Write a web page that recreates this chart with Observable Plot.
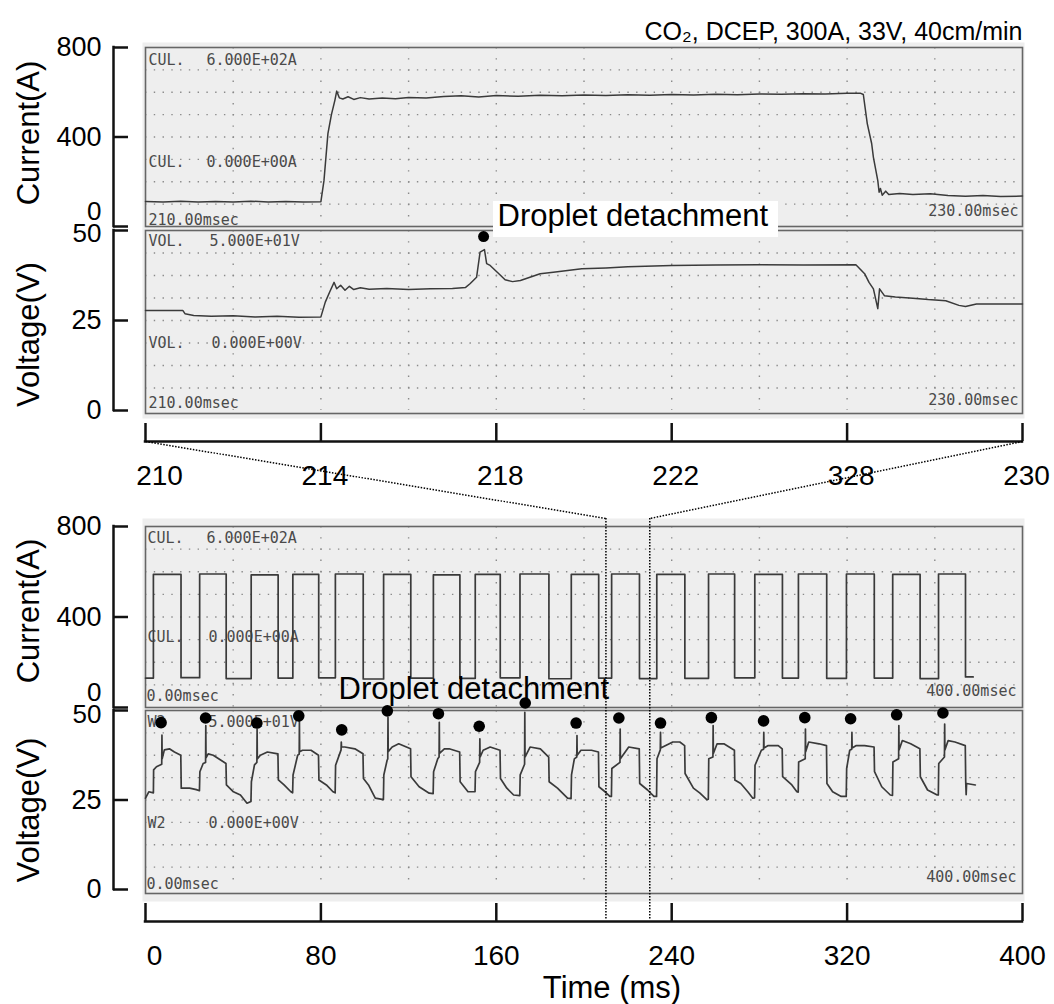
<!DOCTYPE html>
<html>
<head>
<meta charset="utf-8">
<script src="https://cdn.jsdelivr.net/npm/d3@7"></script>
<script src="https://cdn.jsdelivr.net/npm/@observablehq/plot@0.6"></script>
<style>
html, body { margin: 0; padding: 0; background: #fff; }
#chart { position: relative; width: 1054px; height: 1004px; overflow: hidden; background: #fff; }
#chart > svg { position: absolute; left: 0; top: 0; }
</style>
</head>
<body>
<div id="chart"></div>
<script>
// ---------------- data ----------------
const title = "CO₂, DCEP, 300A, 33V, 40cm/min";
const annotation = "Droplet detachment";
const currentTitle = "Current(A)";
const voltageTitle = "Voltage(V)";
const timeTitle = "Time (ms)";

const topTimeDomain = [210, 230];
const topTimeTicks = [210, 214, 218, 222, 226, 230];
const topTimeTickLabels = ["210", "214", "218", "222", "328", "230"];
const bottomTimeDomain = [0, 400];
const bottomTimeTicks = [0, 80, 160, 240, 320, 400];
const zoomWindow = [210, 230];

const currentDomain = [0, 800];
const currentTicks = [0, 400, 800];
const voltageDomain = [0, 50];
const voltageTicks = [0, 25, 50];

const topTimeGrid = [212, 214, 216, 218, 220, 222, 224, 226, 228];
const bottomTimeGrid = [40, 80, 120, 160, 200, 240, 280, 320, 360];
const currentGrid = [100, 200, 300, 400, 500, 600, 700];
const voltageGrid = [6.25, 12.5, 18.75, 25, 31.25, 37.5, 43.75];

// scope screen texts
const curHeader = ["CUL.", "6.000E+02A"];
const curZero = ["CUL.", "0.000E+00A"];
const volHeader = ["VOL.", "5.000E+01V"];
const volZero = ["VOL.", "0.000E+00V"];
const w2Header = ["W2", "5.000E+01V"];
const w2Zero = ["W2", "0.000E+00V"];
const topStart = "210.00msec", topEnd = "230.00msec";
const bottomStart = "0.00msec", bottomEnd = "400.00msec";

// top (zoomed) traces: [time ms, value]
const topCurrent = [[210.0,112],[210.4,110],[210.8,113],[211.2,109],[211.6,112],[212.0,110],[212.4,113],[212.8,110],[213.2,112],[213.6,109],[214.0,111],[214.07,205],[214.16,415],[214.24,500],[214.32,565],[214.36,605],[214.42,575],[214.5,570],[214.62,580],[214.75,568],[214.9,576],[215.1,570],[215.4,574],[215.7,571],[216.0,577],[216.4,574],[216.8,581],[217.2,584],[217.6,579],[218.0,585],[218.5,582],[219.0,587],[219.5,584],[220.0,588],[220.5,585],[221.0,589],[221.5,587],[222.0,590],[222.5,588],[223.0,591],[223.5,589],[224.0,592],[224.5,591],[225.0,593],[225.5,592],[226.0,595],[226.3,596],[226.37,590],[226.46,460],[226.56,371],[226.6,309],[226.7,205],[226.73,153],[226.76,170],[226.8,140],[226.88,158],[226.95,143],[227.2,148],[227.5,143],[227.9,146],[228.3,139],[228.7,135],[229.1,138],[229.5,134],[230.0,136]];

const topVoltage = [[210.0,27.8],[210.85,27.8],[210.9,26.9],[211.1,26.4],[211.5,26.2],[212.0,26.3],[212.5,26.0],[213.0,26.2],[213.5,25.9],[214.0,26.0],[214.1,30.1],[214.2,32.9],[214.3,35.6],[214.36,33.8],[214.45,34.8],[214.55,33.4],[214.65,34.5],[214.75,33.6],[214.9,34.1],[215.1,33.7],[215.5,33.9],[216.0,33.6],[216.5,33.8],[217.0,33.9],[217.3,34.2],[217.4,35.2],[217.55,37.0],[217.63,44.0],[217.73,44.7],[217.78,40.8],[217.86,40.3],[217.98,38.9],[218.1,37.5],[218.2,36.3],[218.37,35.8],[218.55,36.1],[219.0,38.0],[219.3,38.4],[219.95,39.4],[220.5,39.6],[221.0,39.9],[222.0,40.3],[223.0,40.4],[224.0,40.5],[225.0,40.4],[226.2,40.5],[226.4,38.0],[226.5,35.6],[226.6,33.8],[226.7,28.3],[226.74,33.8],[226.85,31.9],[227.1,31.5],[227.5,31.2],[227.85,30.8],[228.25,30.5],[228.55,29.2],[228.7,28.9],[228.95,29.6],[229.5,29.6],[230.0,29.6]];

const topDetachment = [[217.71, 48.3]];

// bottom (overview) current: level changes [time ms, current A], drawn as steps
const bottomCurrent = [[0,130],[3.6,588],[16.2,132],[24.7,590],[36.8,128],[48.2,586],[60.5,130],[67.2,588],[79.0,131],[86.6,590],[99.3,126],[108.6,588],[121.0,130],[131.3,586],[143.4,129],[150.4,588],[161.8,131],[170.8,590],[184.0,127],[194.2,588],[206.7,130],[212.6,590],[225.3,128],[233.2,588],[246.0,129],[256.8,590],[268.7,131],[277.9,588],[290.5,130],[297.8,590],[310.7,129],[319.7,590],[332.4,130],[340.8,588],[353.3,128],[361.7,590],[374.0,135],[377.5,135]];

const bottomVoltage = [[0,25.5],[1.5,27.3],[3.6,27.0],
[3.7,33.4],[5.0,34.3],[7.4,35.0],[7.5,43.1],[7.6,36.5],[8.6,39.0],[10.9,39.3],[13.2,38.4],[16.1,37.5],
[16.3,28.3],[20.1,28.3],[23.2,27.9],[24.6,27.6],
[24.8,32.9],[26.3,35.2],[27.4,35.5],[27.5,45.8],[27.6,36.8],[28.6,37.9],[30.9,37.5],[33.2,36.6],[36.7,35.2],
[36.9,29.2],[40.1,27.3],[43.3,26.4],[46.3,24.1],[48.1,24.6],
[48.3,30.1],[49.7,34.8],[50.8,35.5],[50.9,44.8],[51.0,36.5],[52.4,37.5],[55.6,38.4],[60.4,37.9],
[60.6,30.6],[63.2,29.2],[66.3,27.3],[67.1,27.0],
[67.3,32.0],[69.4,37.5],[70.1,37.8],[70.2,47.2],[70.3,38.5],[71.6,38.9],[75.5,38.9],[78.9,37.5],
[79.1,30.6],[82.5,29.2],[85.5,27.3],[86.5,27.0],
[86.7,34.7],[89.2,39.0],[89.3,41.2],[89.4,39.8],[90.9,39.8],[95.5,39.3],[99.2,37.9],
[99.4,31.0],[101.7,29.2],[104.8,25.5],[108.5,25.1],
[108.7,32.0],[110.2,36.1],[110.5,36.5],[110.6,48.1],[110.7,38.5],[112.5,39.8],[115.5,40.7],[120.9,39.3],
[121.1,31.5],[124.8,28.7],[129.4,26.9],[131.2,26.8],
[131.4,32.9],[133.3,36.5],[133.9,37.0],[134.0,46.7],[134.1,38.0],[136.3,39.3],[138.5,39.3],[143.3,38.4],
[143.5,30.1],[147.1,27.3],[150.3,27.3],
[150.5,32.9],[152.4,35.5],[152.5,42.1],[152.6,37.0],[154.0,38.9],[157.2,39.8],[161.7,38.9],
[161.9,31.0],[164.8,28.3],[167.9,26.4],[170.7,26.2],
[170.9,32.0],[172.9,35.0],[173.0,49.5],[173.1,37.0],[175.4,39.8],[180.1,39.3],[183.9,37.0],
[184.1,30.1],[187.9,28.3],[192.5,25.5],[194.1,25.4],
[194.3,32.0],[195.6,36.5],[196.7,37.0],[196.8,43.0],[196.9,37.5],[198.6,38.9],[203.4,38.9],[206.6,38.4],
[206.8,28.7],[209.6,27.3],[211.8,26.0],[212.5,26.0],
[212.7,33.8],[216.4,35.5],[216.5,44.8],[216.6,36.5],[220.4,39.8],[225.2,39.3],
[225.4,29.6],[229.0,27.8],[231.9,26.0],[233.1,26.0],
[233.3,36.5],[234.8,39.0],[234.9,43.9],[235.0,39.5],[235.9,39.8],[240.5,41.2],[243.7,41.2],[245.9,40.2],
[246.1,32.4],[249.9,28.3],[252.9,26.9],[256.0,25.1],[256.7,25.2],
[256.9,36.5],[258.8,37.0],[258.9,45.8],[259.0,38.0],[260.7,40.7],[263.8,40.7],[268.6,38.9],
[268.8,30.6],[271.5,29.6],[274.7,27.3],[277.0,25.5],[277.8,25.6],
[278.0,34.7],[280.9,38.9],[281.9,39.2],[282.0,43.9],[282.1,39.5],[284.0,40.2],[288.6,40.2],[290.4,39.3],
[290.6,31.5],[294.8,29.2],[297.1,27.3],[297.7,27.2],
[297.9,35.6],[300.9,36.5],[301.0,44.8],[301.1,38.5],[302.5,41.2],[307.2,40.7],[310.6,40.2],
[310.8,29.6],[313.4,27.3],[317.3,26.0],[319.6,26.0],
[319.8,33.8],[321.2,38.9],[322.1,39.2],[322.2,43.9],[322.3,39.5],[324.2,40.2],[328.0,40.2],[332.3,39.8],
[332.5,32.9],[335.8,28.7],[339.7,26.4],[340.7,26.3],
[340.9,35.6],[343.5,36.5],[343.6,45.8],[343.7,39.0],[345.2,41.6],[349.0,40.7],[353.2,39.3],
[353.4,31.5],[356.7,27.8],[361.1,26.4],[361.6,26.4],
[361.8,35.2],[364.4,37.0],[364.5,46.2],[364.6,39.0],[366.1,41.6],[369.2,41.2],[373.9,40.2],
[374.1,30.1],[374.3,26.5],[374.5,29.6],[378.5,29.2]];

const bottomDetachments = [[7.1,46.6],[27.4,47.9],[50.8,46.5],[69.9,48.5],[89.5,44.6],[110.3,49.9],[133.6,49.1],[152.2,45.6],[173.2,52.1],[196.4,46.5],[215.9,47.9],[234.9,46.5],[258.1,48.0],[281.9,47.1],[300.7,48.0],[321.6,47.7],[342.6,48.8],[363.7,49.3]];

// ---------------- layout & style ----------------
const W = 1054, H = 1004;
const L = 145, R = 1022;
const FONT = "Liberation Sans, Arial, Helvetica, sans-serif";
const MONO = "DejaVu Sans Mono, Liberation Mono, monospace";
const INK = "#111";
const TRACE = "#3a3a3a";
const SCOPE_BG = "#eeeeee";
const GRID_DOT = "#8a8a8a";
const FRAME = "#666";
const SCOPE_TEXT = "#4a4a4a";
const STYLE = {background: "transparent", fontFamily: FONT, overflow: "visible"};

function scopeText(text, frameAnchor, dx, dy, textAnchor = "start") {
  return Plot.text([text], {text: d => d, frameAnchor, dx, dy, textAnchor, lineAnchor: "middle",
    fontFamily: MONO, fontSize: 15, fill: SCOPE_TEXT});
}

function scopeBase(xGrid, yGrid, bg, border) {
  return [
    Plot.frame({fill: SCOPE_BG, stroke: "none", ...bg}),
    Plot.gridY(yGrid, {stroke: GRID_DOT, strokeOpacity: 1, strokeWidth: 1.4, strokeDasharray: "1.4 7.37"}),
    Plot.gridX(xGrid, {stroke: GRID_DOT, strokeOpacity: 1, strokeWidth: 1.4, strokeDasharray: "1.4 9.8"}),
    Plot.frame({stroke: FRAME, strokeWidth: 1.6, fill: "none", ...border})
  ];
}

function yAxis(xStart, ticks, plain, shifted, shiftDy, label, labelDy) {
  return [
    Plot.ruleX([xStart], {dx: -32, stroke: INK, strokeWidth: 2.5, strokeLinecap: "square"}),
    Plot.axisY(ticks, {anchor: "left", tickSize: 15, dx: -17, fill: "none", stroke: INK, strokeWidth: 2.5, label: null}),
    Plot.axisY(plain, {anchor: "left", tickSize: 0, tickPadding: 44, stroke: "none", fill: "#000", fontSize: 27, label: null}),
    Plot.axisY(shifted, {anchor: "left", tickSize: 0, tickPadding: 44, dy: shiftDy, stroke: "none", fill: "#000", fontSize: 26, label: null}),
    Plot.text([label], {text: d => d, frameAnchor: "left", textAnchor: "middle", lineAnchor: "middle", rotate: -90, dx: -116, dy: labelDy, fontSize: 31, fill: "#000"})
  ];
}

function timeAxis(ticks, lineDy, tickDy, labelPad, format, firstDx, restDx) {
  return [
    Plot.ruleY([0], {dy: lineDy, stroke: INK, strokeWidth: 2.5, strokeLinecap: "square"}),
    Plot.axisX(ticks, {anchor: "bottom", tickSize: 18, dy: tickDy, fill: "none", stroke: INK, strokeWidth: 2.5, label: null}),
    Plot.axisX(ticks.slice(0, 1), {anchor: "bottom", tickSize: 0, tickPadding: labelPad, dx: firstDx, stroke: "none", fill: "#000", fontSize: 28, tickFormat: format, label: null}),
    Plot.axisX(ticks.slice(1), {anchor: "bottom", tickSize: 0, tickPadding: labelPad, dx: restDx, stroke: "none", fill: "#000", fontSize: 28, tickFormat: format, label: null})
  ];
}

// ---------------- top: current (zoom) ----------------
const topCurrentPlot = Plot.plot({
  width: W, height: H, marginLeft: L, marginRight: W - R, marginTop: 47, marginBottom: H - 226,
  style: STYLE,
  x: {domain: topTimeDomain, axis: null},
  y: {domain: currentDomain},
  marks: [
    ...scopeBase(topTimeGrid, currentGrid, {insetTop: -5, insetBottom: -3, insetLeft: -3, insetRight: -2}, {}),
    scopeText(curHeader[0], "top-left", 3, 13),
    scopeText(curHeader[1], "top-left", 61, 13),
    scopeText(curZero[0], "top-left", 3, 115),
    scopeText(curZero[1], "top-left", 61, 115),
    scopeText(topStart, "bottom-left", 3, -6),
    scopeText(topEnd, "bottom-right", -4, -15, "end"),
    Plot.line(topCurrent, {x: d => d[0], y: d => d[1], stroke: TRACE, strokeWidth: 1.5}),
    Plot.text([title], {text: d => d, frameAnchor: "top-right", dy: -16, textAnchor: "end", lineAnchor: "middle", fontSize: 25, fill: "#000"}),
    ...yAxis(topTimeDomain[0], currentTicks, [400, 800], [0], -15, currentTitle, -4)
  ]
});

// ---------------- top: voltage (zoom) ----------------
const topVoltagePlot = Plot.plot({
  width: W, height: H, marginLeft: L, marginRight: W - R, marginTop: 230, marginBottom: H - 410,
  style: STYLE,
  x: {domain: topTimeDomain},
  y: {domain: voltageDomain},
  marks: [
    ...scopeBase(topTimeGrid, voltageGrid, {insetTop: -2, insetBottom: -8, insetLeft: -3, insetRight: -2}, {insetBottom: -3}),
    scopeText(volHeader[0], "top-left", 3, 11),
    scopeText(volHeader[1], "top-left", 64, 11),
    scopeText(volZero[0], "top-left", 3, 113),
    scopeText(volZero[1], "top-left", 66, 113),
    scopeText(topStart, "bottom-left", 3, -7),
    scopeText(topEnd, "bottom-right", -4, -10, "end"),
    Plot.line(topVoltage, {x: d => d[0], y: d => d[1], stroke: TRACE, strokeWidth: 1.5}),
    Plot.rect([annotation], {fill: "white", insetLeft: 348, insetRight: 244, insetTop: -29, insetBottom: 173}),
    Plot.text([annotation], {text: d => d, frameAnchor: "top-left", dx: 352, dy: -14, textAnchor: "start", lineAnchor: "middle", fontSize: 31, fill: "#000"}),
    Plot.dot(topDetachment, {x: d => d[0], y: d => d[1], r: 5.5, fill: "#000", stroke: "none"}),
    ...yAxis(topTimeDomain[0], voltageTicks, [0, 25], [50], 3, voltageTitle, 14),
    ...timeAxis(topTimeTicks, 31, 13, 55, d => topTimeTickLabels[topTimeTicks.indexOf(d)], 14, 4)
  ]
});

// ---------------- bottom: current (overview) ----------------
const bottomCurrentPlot = Plot.plot({
  width: W, height: H, marginLeft: L, marginRight: W - R, marginTop: 526, marginBottom: H - 707,
  style: STYLE,
  x: {domain: bottomTimeDomain, axis: null},
  y: {domain: currentDomain},
  marks: [
    ...scopeBase(bottomTimeGrid, currentGrid, {insetTop: -8, insetBottom: -3, insetLeft: -3, insetRight: -2}, {}),
    scopeText(curHeader[0], "top-left", 2, 12),
    scopeText(curHeader[1], "top-left", 61, 12),
    scopeText(curZero[0], "top-left", 2, 111),
    scopeText(curZero[1], "top-left", 63, 111),
    scopeText(bottomStart, "bottom-left", 1, -11),
    scopeText(bottomEnd, "bottom-right", -6, -16, "end"),
    Plot.line(bottomCurrent, {x: d => d[0], y: d => d[1], curve: "step-after", stroke: TRACE, strokeWidth: 1.7}),
    ...yAxis(bottomTimeDomain[0], currentTicks, [400, 800], [0], -15, currentTitle, -6)
  ]
});

// ---------------- bottom: voltage (overview) ----------------
const bottomVoltagePlot = Plot.plot({
  width: W, height: H, marginLeft: L, marginRight: W - R, marginTop: 710, marginBottom: H - 889,
  style: STYLE,
  x: {domain: bottomTimeDomain},
  y: {domain: voltageDomain},
  marks: [
    ...scopeBase(bottomTimeGrid, voltageGrid, {insetTop: -1, insetBottom: -12, insetLeft: -3, insetRight: -2}, {insetBottom: -4}),
    scopeText(w2Header[0], "top-left", 2, 12),
    scopeText(w2Header[1], "top-left", 63, 12),
    scopeText(w2Zero[0], "top-left", 2, 113),
    scopeText(w2Zero[1], "top-left", 63, 113),
    scopeText(bottomStart, "bottom-left", 1, -5),
    scopeText(bottomEnd, "bottom-right", -6, -12, "end"),
    Plot.line(bottomVoltage, {x: d => d[0], y: d => d[1], stroke: TRACE, strokeWidth: 1.7}),
    Plot.dot(bottomDetachments, {x: d => d[0], y: d => d[1], r: 5.8, fill: "#000", stroke: "none"}),
    Plot.text([annotation], {text: d => d, frameAnchor: "top-left", dx: 193, dy: -21, textAnchor: "start", lineAnchor: "middle", fontSize: 31, fill: "#000"}),
    ...yAxis(bottomTimeDomain[0], voltageTicks, [0, 25], [50], 4, voltageTitle, 10),
    ...timeAxis(bottomTimeTicks, 32, 14, 56, d => String(d), 9, 0),
    Plot.text([timeTitle], {text: d => d, frameAnchor: "bottom", textAnchor: "middle", dx: 28, dy: 99, lineAnchor: "middle", fontSize: 31, fill: "#000"})
  ]
});

// ---------------- zoom connectors ----------------
// the top axis spans the whole overview width: its ends sit over the overview domain ends
const connectors = [
  {from: bottomTimeDomain[0], to: zoomWindow[0]},
  {from: bottomTimeDomain[1], to: zoomWindow[1]}
];
const connectorPlot = Plot.plot({
  width: W, height: H, marginLeft: L, marginRight: W - R, marginTop: 441, marginBottom: H - 518,
  style: STYLE,
  x: {domain: bottomTimeDomain, axis: null},
  y: {domain: [0, 1], axis: null},
  marks: [
    Plot.link(connectors, {x1: "from", x2: "to", y1: 1, y2: 0, stroke: "#000", strokeWidth: 1.5, strokeDasharray: "1.5 1.5"}),
    Plot.ruleX(zoomWindow, {insetTop: 77, insetBottom: -402, stroke: "#000", strokeWidth: 1.5, strokeDasharray: "1.5 1.5"})
  ]
});

const chart = document.getElementById("chart");
[topCurrentPlot, topVoltagePlot, bottomCurrentPlot, bottomVoltagePlot, connectorPlot].forEach(p => chart.appendChild(p));
</script>
</body>
</html>
